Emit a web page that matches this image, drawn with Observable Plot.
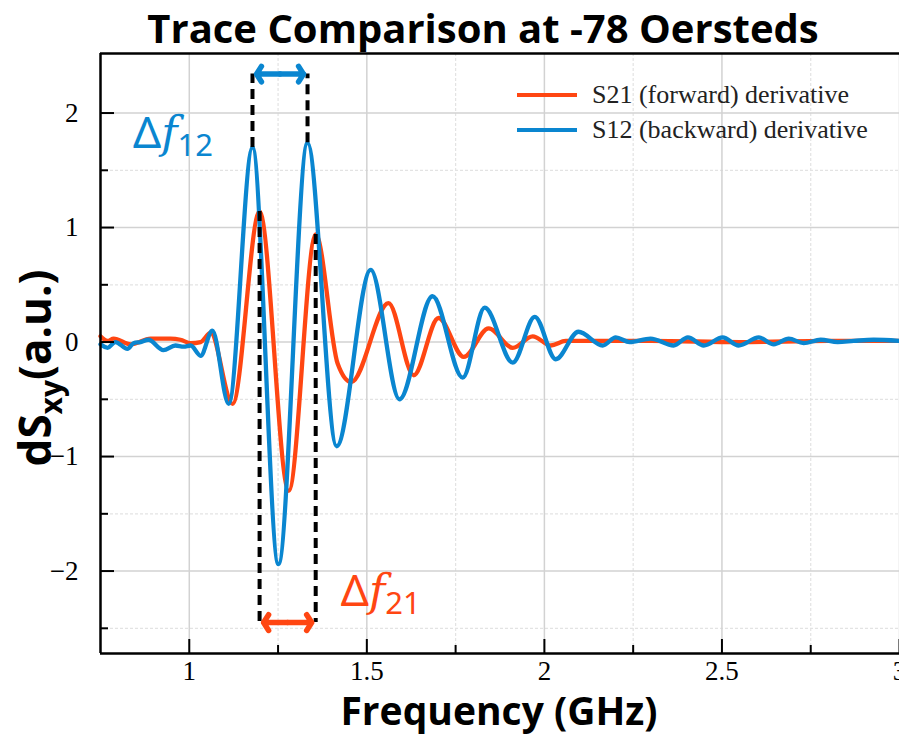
<!DOCTYPE html>
<html><head><meta charset="utf-8">
<script src="https://cdn.jsdelivr.net/npm/d3@7"></script>
<script src="https://cdn.jsdelivr.net/npm/@observablehq/plot@0.6"></script>
<style>body{margin:0;background:#fff} svg{display:block}</style>
</head><body><div id="chart"></div>
<script>
// ---- data ----
const titleText = "Trace Comparison at -78 Oersteds";
const xLabelText = "Frequency (GHz)";
const seriesNames = ["S21 (forward) derivative", "S12 (backward) derivative"];
const seriesColors = ["#ff4612", "#0a86d0"];

const freqS21 = [0.750,0.770,0.787,0.835,0.891,0.947,0.975,1.004,1.032,1.060,1.122,1.198,1.280,1.356,1.418,1.456,1.561,1.632,1.702,1.773,1.843,1.911,1.967,2.018,2.060,2.300,2.550,2.800,3.000];
const valS21  = [0.05,0.01,0.03,-0.02,0.03,0.03,0.02,-0.01,0.00,0.08,-0.54,1.14,-1.30,0.94,-0.19,-0.35,0.34,-0.29,0.21,-0.13,0.12,-0.05,0.05,-0.03,0.01,0.01,0.00,0.01,0.01];

const freqS12 = [0.750,0.770,0.792,0.826,0.843,0.863,0.885,0.927,0.961,0.984,1.004,1.032,1.065,1.111,1.178,1.251,1.333,1.415,1.511,1.592,1.685,1.770,1.832,1.911,1.973,2.032,2.096,2.164,2.201,2.240,2.299,2.364,2.404,2.449,2.502,2.547,2.604,2.646,2.688,2.730,2.778,2.826,2.871,2.927,3.000];
const valS12  = [-0.02,-0.05,0.00,-0.06,-0.01,0.00,0.02,-0.07,-0.03,-0.04,-0.03,-0.12,0.10,-0.54,1.70,-1.94,1.74,-0.91,0.63,-0.50,0.40,-0.31,0.30,-0.18,0.22,-0.15,0.09,-0.03,0.04,0.00,0.03,-0.03,0.04,-0.03,0.04,-0.03,0.04,-0.02,0.03,-0.01,0.02,0.00,0.01,0.02,0.01];

const xTicks = [1, 1.5, 2, 2.5, 3];
const xMinor = [1.25, 1.75, 2.25, 2.75];
const yTicks = [-2, -1, 0, 1, 2];
const yMinor = [-2.5, -1.5, -0.5, 0.5, 1.5];
const xDomain = [0.75, 3];
const yDomain = [-2.72, 2.52];

// peaks marked by the dashed guides
const peaksS12 = [1.178, 1.333];
const peaksS21 = [1.198, 1.356];
const arrowLevelS12 = 2.34;
const arrowLevelS21 = -2.45;

// ---- build tables ----
const s21 = freqS21.map((f, i) => ({f, v: valS21[i]}));
const s12 = freqS12.map((f, i) => ({f, v: valS12[i]}));
const guides12 = peaksS12.map(f => ({f, v: valS12[freqS12.indexOf(f)], end: arrowLevelS12}));
const guides21 = peaksS21.map(f => ({f, v: valS21[freqS21.indexOf(f)], end: arrowLevelS21}));
const mid12 = (peaksS12[0] + peaksS12[1]) / 2;
const mid21 = (peaksS21[0] + peaksS21[1]) / 2;
const arrows12 = peaksS12.map(f => ({x1: mid12, x2: f, y: arrowLevelS12}));
const arrows21 = peaksS21.map(f => ({x1: mid21, x2: f, y: arrowLevelS21}));
const fmt = d => d < 0 ? "\u2212" + Math.abs(d) : String(d);
const tickFont = "'Liberation Serif', 'Times New Roman', serif";

const plot = Plot.plot({
  width: 899, height: 736,
  marginLeft: 100, marginRight: 0, marginTop: 53, marginBottom: 83,
  style: {background: "#fff", fontFamily: tickFont, fontSize: "27px", color: "#000", overflow: "visible"},
  x: {domain: xDomain, label: null},
  y: {domain: yDomain, label: null},
  marks: [
    Plot.gridX(xMinor, {stroke: "#e3e3e3", strokeOpacity: 1, strokeWidth: 1.2, strokeDasharray: "3,2"}),
    Plot.gridY(yMinor, {stroke: "#e3e3e3", strokeOpacity: 1, strokeWidth: 1.2, strokeDasharray: "3,2"}),
    Plot.gridX(xTicks, {stroke: "#d2d2d2", strokeOpacity: 1, strokeWidth: 1.5}),
    Plot.gridY(yTicks, {stroke: "#d2d2d2", strokeOpacity: 1, strokeWidth: 1.5}),
    Plot.line(s21, {x: "f", y: "v", stroke: seriesColors[0], strokeWidth: 4.3, curve: "monotone-x"}),
    Plot.line(s12, {x: "f", y: "v", stroke: seriesColors[1], strokeWidth: 4.3, curve: "monotone-x"}),
    Plot.ruleX(guides12, {x: "f", y1: "v", y2: "end", stroke: "#000", strokeWidth: 4, strokeDasharray: "10,6"}),
    Plot.ruleX(guides21, {x: "f", y1: "v", y2: "end", stroke: "#000", strokeWidth: 4, strokeDasharray: "10,6"}),
    Plot.arrow(arrows12, {x1: "x1", x2: "x2", y1: "y", y2: "y", stroke: seriesColors[1], strokeWidth: 5.5, headLength: 15, headAngle: 115, insetEnd: 4}),
    Plot.arrow(arrows21, {x1: "x1", x2: "x2", y1: "y", y2: "y", stroke: seriesColors[0], strokeWidth: 5.5, headLength: 15, headAngle: 115, insetEnd: 4}),
    // axes: inward ticks + labels
    Plot.axisX({ticks: xTicks, tickSize: -14, tickFormat: () => "", strokeWidth: 2, label: null}),
    Plot.axisX({ticks: xMinor, tickSize: -8, tickFormat: () => "", strokeWidth: 2, label: null}),
    Plot.axisX({ticks: xTicks, tickSize: 0, tickPadding: 7, tickFormat: fmt, label: null}),
    Plot.axisY({ticks: yTicks, tickSize: -14, tickFormat: () => "", strokeWidth: 2, label: null}),
    Plot.axisY({ticks: yMinor, tickSize: -8, tickFormat: () => "", strokeWidth: 2, label: null}),
    Plot.axisY({ticks: yTicks, tickSize: 0, tickPadding: 22, tickFormat: fmt, label: null}),
    // frame edges
    Plot.ruleX([xDomain[0]], {stroke: "#000", strokeWidth: 2.5}),
    Plot.ruleY([yDomain[0]], {stroke: "#000", strokeWidth: 2.5}),
    Plot.ruleY([yDomain[1]], {stroke: "#000", strokeWidth: 2.5})
  ]
});

document.getElementById("chart").appendChild(plot);
const svg = d3.select(plot);
svg.selectAll("text").attr("font-size", 27).style("font-size", "27px").attr("font-family", tickFont);

const X = plot.scale("x"), Y = plot.scale("y");
const bold = "'Open Sans', Lato, sans-serif";

// title
svg.append("text").attr("x", 483).attr("y", 43).attr("text-anchor", "middle")
  .attr("font-family", bold).attr("font-weight", "bold").attr("font-size", 40).attr("fill", "#000")
  .text(titleText);
// x label
svg.append("text").attr("x", 499).attr("y", 725).attr("text-anchor", "middle")
  .attr("font-family", bold).attr("font-weight", "bold").attr("font-size", 39).attr("fill", "#000")
  .text(xLabelText);
// y label with subscript
const yl = svg.append("text").attr("transform", "translate(51,368) rotate(-90)").attr("text-anchor", "middle")
  .attr("font-family", bold).attr("font-weight", "bold").attr("font-size", 44).attr("fill", "#000");
yl.append("tspan").text("dS");
yl.append("tspan").attr("font-size", 30).attr("dy", 11).text("xy");
yl.append("tspan").attr("dy", -11).text("(a.u.)");

// legend
const legendY = [95, 130];
seriesNames.forEach((name, i) => {
  svg.append("line").attr("x1", 517).attr("x2", 577).attr("y1", legendY[i]).attr("y2", legendY[i])
    .attr("stroke", seriesColors[i]).attr("stroke-width", 4);
  svg.append("text").attr("x", 592).attr("y", legendY[i] + 8).attr("text-anchor", "start")
    .attr("font-family", "'Liberation Serif', serif").attr("font-size", 26).attr("fill", "#222").text(name);
});

// delta-f annotations
function deltaLabel(x, y, sub, color) {
  const t = svg.append("text").attr("x", x).attr("y", y).attr("text-anchor", "start").attr("fill", color).attr("font-size", 44);
  t.append("tspan").attr("font-family", "'Noto Sans', sans-serif").text("\u0394");
  t.append("tspan").attr("font-family", "'DejaVu Serif', serif").attr("font-style", "italic").text("f");
  t.append("tspan").attr("font-family", "'Noto Sans', sans-serif").attr("font-size", 31).attr("dy", 8).text(sub);
}
deltaLabel(X.apply(0.843), Y.apply(1.694), "12", seriesColors[1]);
deltaLabel(X.apply(1.428), Y.apply(-2.31), "21", seriesColors[0]);
</script>
</body></html>
